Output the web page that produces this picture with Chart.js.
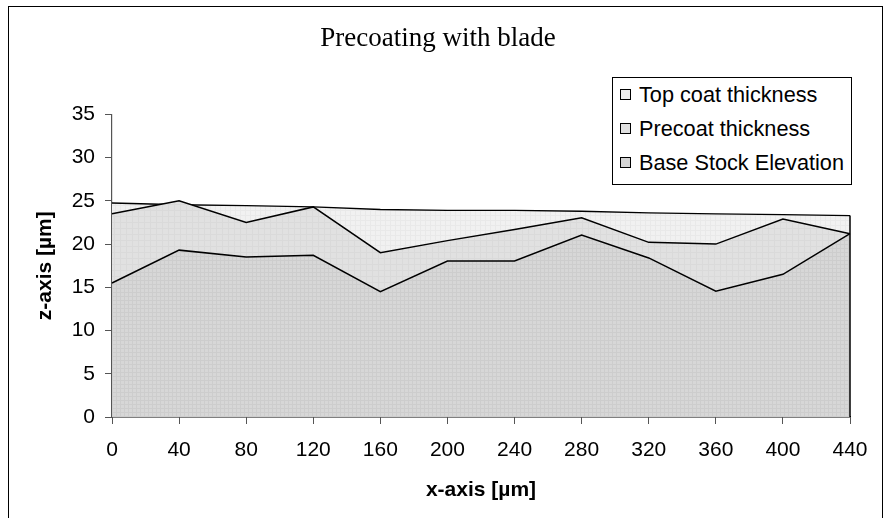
<!DOCTYPE html>
<html>
<head>
<meta charset="utf-8">
<script src="https://cdn.jsdelivr.net/npm/chart.js@4"></script>
<style>
    html, body { margin: 0; padding: 0; background: #fff; }
    #wrap { position: relative; width: 888px; height: 518px; overflow: hidden; }
    #frame {
        position: absolute; left: 8px; top: 6px; width: 875px; height: 600px;
        border: 1.5px solid #000; box-sizing: border-box; pointer-events: none;
    }
    #legend {
        position: absolute; left: 612px; top: 77px; width: 240px; height: 108px;
        border: 1.2px solid #000; background: #fff; box-sizing: border-box;
        font-family: "Liberation Sans", Arial, sans-serif; font-size: 21.7px; color: #000;
        padding-top: 0px;
    }
    #legend .item { height: 34px; line-height: 34px; white-space: nowrap; padding-left: 7px; }
    #legend .swatch {
        display: inline-block; width: 9px; height: 9px; border: 1px solid #000;
        margin-right: 8px; vertical-align: 2px;
    }
</style>
</head>
<body>
<div id="wrap">
    <canvas id="chart" width="888" height="518"></canvas>
    <div id="frame"></div>
    <div id="legend"></div>
</div>
<script>
// Precoating with blade - surface elevations along the x-axis

const xLabels = ['0', '40', '80', '120', '160', '200', '240', '280', '320', '360', '400', '440'];

// elevation of each surface [µm]
const baseStock = [15.5, 19.3, 18.5, 18.7, 14.5, 18.05, 18.05, 21.05, 18.4, 14.55, 16.5, 21.2];
const precoat   = [23.5, 25.0, 22.5, 24.3, 19.0, 20.4, 21.7, 23.05, 20.2, 20.0, 22.9, 21.2];
const topCoat   = [24.75, 24.55, 24.45, 24.3, 24.0, 23.9, 23.9, 23.8, 23.6, 23.5, 23.4, 23.3];

const yTicks = [0, 5, 10, 15, 20, 25, 30, 35];

const labels = ['Top coat thickness', 'Precoat thickness', 'Base Stock Elevation'];

// light grey fills with a faint texture
function makePattern(bg, line, step) {
    const c = document.createElement('canvas');
    c.width = step; c.height = step;
    const g = c.getContext('2d');
    g.fillStyle = bg;
    g.fillRect(0, 0, step, step);
    g.fillStyle = line;
    g.fillRect(0, 0, step, 1);
    g.fillRect(0, 0, 1, step);
    return g.createPattern(c, 'repeat');
}

const fillBase = makePattern('#d7d7d7', '#cdcdcd', 4);
const fillPre = makePattern('#e1e1e1', '#dadada', 6);
const fillTop = makePattern('#f1f1f1', '#e9e9e9', 5);

const swatchColors = ['#efefef', '#e0e0e0', '#d4d4d4'];

// right-hand edge of the area stack, and title centred on the whole frame
const edgePlugin = {
    id: 'edge',
    afterLayout(chart) {
        chart.titleBlock.left = 0;
        chart.titleBlock.right = 876;
        chart.titleBlock.width = 876;
    },
    afterDatasetsDraw(chart) {
        const x = chart.scales.x;
        const y = chart.scales.y;
        const last = xLabels.length - 1;
        const ctx = chart.ctx;
        ctx.save();
        ctx.strokeStyle = '#000';
        ctx.lineWidth = 1.5;
        ctx.beginPath();
        ctx.moveTo(x.getPixelForValue(last), y.getPixelForValue(topCoat[last]));
        ctx.lineTo(x.getPixelForValue(last), y.getPixelForValue(0));
        ctx.stroke();
        ctx.restore();
    }
};

const font = '"Liberation Sans", Arial, sans-serif';

const chart = new Chart(document.getElementById('chart'), {
    type: 'line',
    data: {
        labels: xLabels,
        datasets: [
            {
                label: labels[2],
                data: baseStock,
                backgroundColor: fillBase,
                borderColor: '#000',
                borderWidth: 1.5,
                fill: 'origin',
                pointRadius: 0,
                tension: 0
            },
            {
                label: labels[1],
                data: precoat,
                backgroundColor: fillPre,
                borderColor: '#000',
                borderWidth: 1.5,
                fill: 'origin',
                pointRadius: 0,
                tension: 0
            },
            {
                label: labels[0],
                data: topCoat,
                backgroundColor: fillTop,
                borderColor: '#000',
                borderWidth: 1.3,
                fill: 'origin',
                pointRadius: 0,
                tension: 0
            }
        ]
    },
    options: {
        responsive: false,
        animation: false,
        layout: {
            padding: { left: 33, right: 38, top: 0, bottom: 0 }
        },
        plugins: {
            legend: { display: false },
            tooltip: { enabled: false },
            title: {
                display: true,
                text: 'Precoating with blade',
                color: '#000',
                font: { family: '"Liberation Serif", "Times New Roman", serif', size: 27, weight: 'normal' },
                padding: { top: 23, bottom: 59 }
            }
        },
        scales: {
            x: {
                grid: {
                    drawOnChartArea: false,
                    color: '#555',
                    tickLength: 7,
                    tickWidth: 1
                },
                border: { color: '#000', width: 1.5 },
                ticks: {
                    color: '#000',
                    font: { family: font, size: 21 },
                    padding: 14,
                    maxRotation: 0,
                    autoSkip: false
                },
                title: {
                    display: true,
                    text: 'x-axis [µm]',
                    color: '#000',
                    font: { family: font, size: 21, weight: 'bold' },
                    padding: { top: 0, bottom: 15 }
                },
                afterFit(scale) { scale.height = 101; }
            },
            y: {
                min: 0,
                max: 35,
                afterBuildTicks(scale) {
                    scale.ticks = yTicks.map(v => ({ value: v }));
                },
                grid: {
                    drawOnChartArea: false,
                    color: '#555',
                    tickLength: 7,
                    tickWidth: 1
                },
                border: { color: '#555', width: 1.2 },
                ticks: {
                    color: '#000',
                    font: { family: font, size: 21 },
                    padding: 10
                },
                title: {
                    display: true,
                    text: 'z-axis [µm]',
                    color: '#000',
                    font: { family: font, size: 21, weight: 'bold' },
                    padding: { top: 0, bottom: 10 }
                },
                afterFit(scale) { scale.width = 79; }
            }
        }
    },
    plugins: [edgePlugin]
});

// legend box (top series first, as in the reference)
const legend = document.getElementById('legend');
labels.forEach((text, i) => {
    const item = document.createElement('div');
    item.className = 'item';
    const sw = document.createElement('span');
    sw.className = 'swatch';
    sw.style.background = swatchColors[i];
    item.appendChild(sw);
    item.appendChild(document.createTextNode(text));
    legend.appendChild(item);
});
</script>
</body>
</html>
